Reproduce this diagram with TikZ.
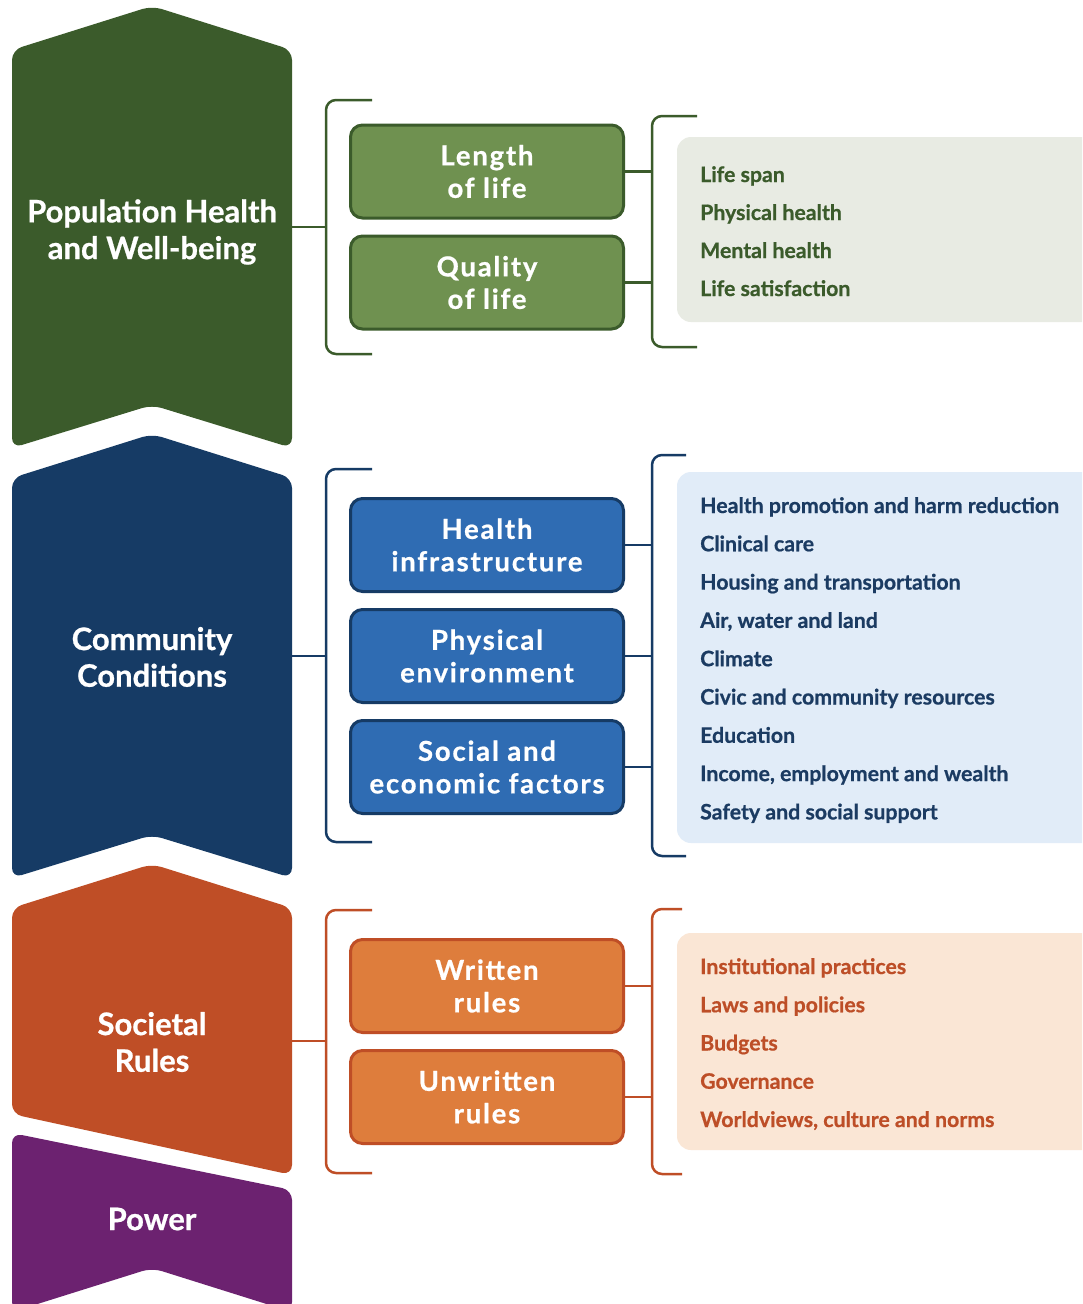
\documentclass[tikz,border=0pt]{standalone}
\usepackage{fontspec}
\setmainfont{Lato}[BoldFeatures={FakeBold=0.7}]
\newfontfamily\boxfont{Lato}[LetterSpace=6.5, BoldFeatures={FakeBold=0.7}]
\usepackage{tikz}

\definecolor{popdark}{HTML}{3B5B2B}
\definecolor{popbox}{HTML}{6F9150}
\definecolor{poppanel}{HTML}{E8EBE3}
\definecolor{poptext}{HTML}{3B5B2B}
\definecolor{comdark}{HTML}{163B65}
\definecolor{combox}{HTML}{2F6CB3}
\definecolor{companel}{HTML}{E1ECF8}
\definecolor{comtext}{HTML}{1B3B62}
\definecolor{socdark}{HTML}{BF4E26}
\definecolor{socbox}{HTML}{DE7D3C}
\definecolor{socpanel}{HTML}{FAE6D5}
\definecolor{soctext}{HTML}{BD4E27}
\definecolor{powdark}{HTML}{6C2270}

\tikzset{
  chevtext/.style={text=white, align=center, inner sep=0pt,
    font=\fontsize{31}{36.7}\selectfont\bfseries},
  subbox/.style={draw=#1dark, fill=#1box, line width=3pt, rounded corners=12pt,
    minimum width=273pt, minimum height=93pt, text=white, align=center,
    font=\boxfont\fontsize{27.5}{32.5}\selectfont\bfseries},
  itemtext/.style={anchor=base west, inner sep=0pt, text=#1text,
    font=\fontsize{21.3}{25}\selectfont\bfseries},
  lnk/.style={draw=#1dark, line width=2.5pt, rounded corners=10pt},
  panel/.style={fill=#1panel, rounded corners=14pt}
}

\begin{document}
\begin{tikzpicture}[x=1pt, y=-1pt]
  \useasboundingbox (0,0) rectangle (1082,1304);
  \fill[white] (0,0) rectangle (1082,1304);
  \clip (0,0) rectangle (1082,1304);

  % population health
  \fill[popdark, rounded corners=10pt] (12,50) -- (152,6) -- (292,50) -- (292,448)
    -- (152,405) -- (12,448) -- cycle;
  \node[chevtext] (pop) at (152,232) {Population Health\\and Well-being};
  \coordinate (popedge) at (292,227);
  \coordinate (popL) at (326,227);
  \coordinate (popR) at (652,227);
  \node[subbox=pop] (len) at (487,171.5) {Length\\of life};
  \node[subbox=pop] (qual) at (487,282.5) {Quality\\of life};
  \draw[lnk=pop] (popedge) -- (popL);
  \draw[lnk=pop] (372,100) -- (326,100) -- (326,354) -- (372,354);
  \draw[lnk=pop] (len.east) -- (len.east -| popR);
  \draw[lnk=pop] (qual.east) -- (qual.east -| popR);
  \draw[lnk=pop] (697,116) -- (652,116) -- (652,347) -- (697,347);
  \fill[panel=pop] (677,137) rectangle (1096,322);
  \foreach \t [count=\i from 0] in {Life span, Physical health, Mental health,
      Life satisfaction}
    \node[itemtext=pop] (popi\i) at (700,{182+38*\i}) {\t};

  % community conditions
  \fill[comdark, rounded corners=10pt] (12,478) -- (152,434) -- (292,478) -- (292,878)
    -- (152,835) -- (12,878) -- cycle;
  \node[chevtext] (com) at (152,657) {Community\\Conditions};
  \coordinate (comedge) at (292,656);
  \coordinate (comL) at (326,656);
  \coordinate (comR) at (652,656);
  \node[subbox=com] (infra) at (487,545) {Health\\infrastructure};
  \node[subbox=com] (phys) at (487,656) {Physical\\environment};
  \node[subbox=com] (econ) at (487,767) {Social and\\economic factors};
  \draw[lnk=com] (comedge) -- (comL);
  \draw[lnk=com] (372,469) -- (326,469) -- (326,842) -- (372,842);
  \draw[lnk=com] (infra.east) -- (infra.east -| comR);
  \draw[lnk=com] (phys.east) -- (phys.east -| comR);
  \draw[lnk=com] (econ.east) -- (econ.east -| comR);
  \draw[lnk=com] (686,455) -- (652,455) -- (652,856) -- (686,856);
  \fill[panel=com] (677,472) rectangle (1096,843);
  \foreach \t [count=\i from 0] in {Health promotion and harm reduction, Clinical care,
      Housing and transportation, {Air, water and land}, Climate,
      Civic and community resources, Education, {Income, employment and wealth},
      Safety and social support}
    \node[itemtext=com] (comi\i) at (700,{513+38.3*\i}) {\t};

  % societal rules
  \fill[socdark, rounded corners=10pt] (12,908) -- (152,864) -- (292,908) -- (292,1175)
    -- (12,1114) -- cycle;
  \node[chevtext] (soc) at (152,1042) {Societal\\Rules};
  \coordinate (socedge) at (292,1041);
  \coordinate (socL) at (326,1041);
  \coordinate (socR) at (652,1041);
  \node[subbox=soc] (wrt) at (487,986) {Written\\rules};
  \node[subbox=soc] (unwrt) at (487,1097) {Unwritten\\rules};
  \draw[lnk=soc] (socedge) -- (socL);
  \draw[lnk=soc] (372,910) -- (326,910) -- (326,1173) -- (372,1173);
  \draw[lnk=soc] (wrt.east) -- (wrt.east -| socR);
  \draw[lnk=soc] (unwrt.east) -- (unwrt.east -| socR);
  \draw[lnk=soc] (682,909) -- (652,909) -- (652,1174) -- (682,1174);
  \fill[panel=soc] (677,933) rectangle (1096,1150);
  \foreach \t [count=\i from 0] in {Institutional practices, Laws and policies, Budgets,
      Governance, {Worldviews, culture and norms}}
    \node[itemtext=soc] (soci\i) at (700,{974+38.25*\i}) {\t};

  % power
  \fill[powdark, rounded corners=10pt] (12,1133) -- (292,1190) -- (292,1312)
    -- (152,1268) -- (12,1312) -- cycle;
  \node[chevtext] (pow) at (152,1219) {Power};
\end{tikzpicture}
\end{document}
